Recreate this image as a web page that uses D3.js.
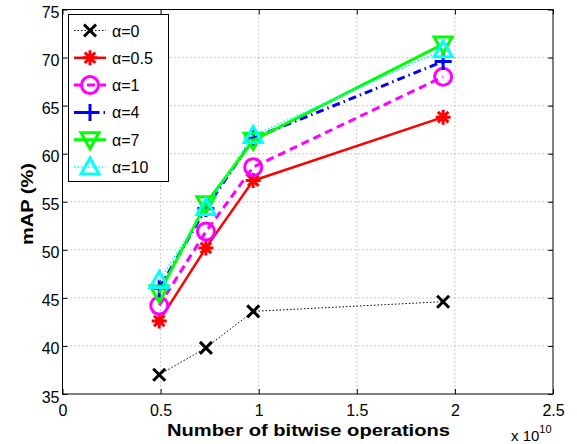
<!DOCTYPE html>
<html><head><meta charset="utf-8">
<script src="https://cdn.jsdelivr.net/npm/d3@7"></script>
<style>body{margin:0;background:#fff}svg{display:block;font-family:"Liberation Sans",Arial,sans-serif}</style>
</head><body><svg id="c" width="577" height="444"></svg>
<script>
const xValues = [0.493, 0.731, 0.972, 1.94];
const alphaLabels = ["α=0","α=0.5","α=1","α=4","α=7","α=10"];
const alpha0 = [37.0, 39.8, 43.6, 44.6];
const alpha05 = [42.6, 50.2, 57.2, 63.8];
const alpha1 = [44.2, 51.9, 58.6, 68.0];
const alpha4 = [46.0, 54.3, 61.6, 69.6];
const alpha7 = [45.5, 54.8, 61.4, 71.4];
const alpha10 = [46.8, 54.4, 61.9, 70.8];
const xTicks = [0, 0.5, 1, 1.5, 2, 2.5];
const yTicks = [35, 40, 45, 50, 55, 60, 65, 70, 75];

const seriesData = [alpha0, alpha05, alpha1, alpha4, alpha7, alpha10];
const colors = ["#000000", "#ff0000", "#ff00ff", "#0000ff", "#00ff00", "#00ffff"];
const dashes = ["1.5,2", null, "8,5", "8,4,1.5,4", null, "1.5,2"];
const widths = [1, 2.5, 3, 3, 3, 1.5];
const markers = ["x", "star", "circle", "plus", "tridown", "triup"];

const svg = d3.select("#c");
const L = 62.5, R = 553, T = 9.5, B = 394;
const x = d3.scaleLinear().domain([0, 2.5]).range([L, R]);
const y = d3.scaleLinear().domain([35, 75]).range([B, T]);

// grid
const g = svg.append("g");
g.selectAll(".gx").data(xTicks.slice(1, -1)).enter().append("line")
  .attr("x1", d => x(d)).attr("x2", d => x(d)).attr("y1", T).attr("y2", B)
  .attr("stroke", "#999").attr("stroke-width", 1).attr("stroke-dasharray", "1,3");
g.selectAll(".gy").data(yTicks.slice(1, -1)).enter().append("line")
  .attr("y1", d => y(d)).attr("y2", d => y(d)).attr("x1", L).attr("x2", R)
  .attr("stroke", "#999").attr("stroke-width", 1).attr("stroke-dasharray", "1,3");

// axes
const ax = d3.axisBottom(x).tickValues(xTicks).tickSize(-5).tickPadding(11).tickFormat(d3.format("~g"));
const ay = d3.axisLeft(y).tickValues(yTicks).tickSize(-5).tickPadding(3);
const gx = svg.append("g").attr("transform", `translate(0,${B})`).call(ax);
const gy = svg.append("g").attr("transform", `translate(${L},0)`).call(ay);
svg.append("g").attr("transform", `translate(0,${T})`).call(d3.axisTop(x).tickValues(xTicks).tickSize(-5).tickFormat(""));
svg.append("g").attr("transform", `translate(${R},0)`).call(d3.axisRight(y).tickValues(yTicks).tickSize(-5).tickFormat(""));
svg.selectAll(".domain").remove();
svg.selectAll(".tick line").attr("stroke", "#000");
[gx, gy].forEach(a => a.selectAll("text").attr("font-size", 16).attr("fill", "#000").attr("font-family", "Liberation Sans, Arial, sans-serif"));
gy.selectAll("text").attr("dy", "0.5em");
svg.append("rect").attr("x", L).attr("y", T).attr("width", R - L).attr("height", B - T)
  .attr("fill", "none").attr("stroke", "#000").attr("stroke-width", 1);

// markers
function drawMarker(sel, type, color, cx, cy) {
  const s = 7.5;
  const m = sel.append("g").attr("transform", `translate(${cx},${cy})`)
    .attr("stroke", color).attr("fill", "none").attr("stroke-width", 3);
  if (type === "x") {
    m.append("path").attr("d", `M${-s+1.5},${-s+1.5}L${s-1.5},${s-1.5}M${-s+1.5},${s-1.5}L${s-1.5},${-s+1.5}`);
  } else if (type === "star") {
    m.append("path").attr("d", `M${-s},0L${s},0M0,${-s}L0,${s}M${-s*0.7},${-s*0.7}L${s*0.7},${s*0.7}M${-s*0.7},${s*0.7}L${s*0.7},${-s*0.7}`);
  } else if (type === "circle") {
    m.append("circle").attr("r", 8.5);
  } else if (type === "plus") {
    m.append("path").attr("d", `M${-s-1},0L${s+1},0M0,${-s-1}L0,${s+1}`);
  } else if (type === "tridown") {
    m.append("path").attr("d", `M${-9},${-7}L9,${-7}L0,${9}Z`);
  } else if (type === "triup") {
    m.append("path").attr("d", `M${-9},${7}L9,${7}L0,${-9}Z`);
  }
}

const line = d3.line().x((d, i) => x(xValues[i])).y(d => y(d));
seriesData.forEach((vals, k) => {
  const sg = svg.append("g");
  sg.append("path").datum(vals).attr("d", line).attr("fill", "none")
    .attr("stroke", colors[k]).attr("stroke-width", widths[k])
    .attr("stroke-dasharray", dashes[k]);
  vals.forEach((v, i) => drawMarker(sg, markers[k], colors[k], x(xValues[i]), y(v)));
});

// legend
const lg = svg.append("g");
lg.append("rect").attr("x", 68.5).attr("y", 14.5).attr("width", 100).attr("height", 167)
  .attr("fill", "#fff").attr("stroke", "#000").attr("stroke-width", 1);
alphaLabels.forEach((lab, k) => {
  const cy = 30.5 + k * 27.3;
  lg.append("line").attr("x1", 74).attr("x2", 106).attr("y1", cy).attr("y2", cy)
    .attr("stroke", colors[k]).attr("stroke-width", widths[k]).attr("stroke-dasharray", dashes[k]);
  drawMarker(lg, markers[k], colors[k], 90, cy);
  lg.append("text").attr("x", 112).attr("y", cy + 6).attr("font-size", 16).text(lab);
});

// labels
svg.append("text").attr("x", 308.5).attr("y", 435.5).attr("text-anchor", "middle")
  .attr("font-weight", "bold").attr("font-size", 16)
  .attr("textLength", 283).attr("lengthAdjust", "spacingAndGlyphs").text("Number of bitwise operations");
svg.append("text").attr("transform", "translate(33,204) rotate(-90)").attr("text-anchor", "middle")
  .attr("font-weight", "bold").attr("font-size", 16.5)
  .attr("textLength", 82).attr("lengthAdjust", "spacingAndGlyphs").text("mAP (%)");
const ex = svg.append("text").attr("x", 511).attr("y", 441).attr("font-size", 15);
ex.append("tspan").text("x 10");
ex.append("tspan").attr("dy", -8).attr("font-size", 11).text("10");
</script></body></html>
